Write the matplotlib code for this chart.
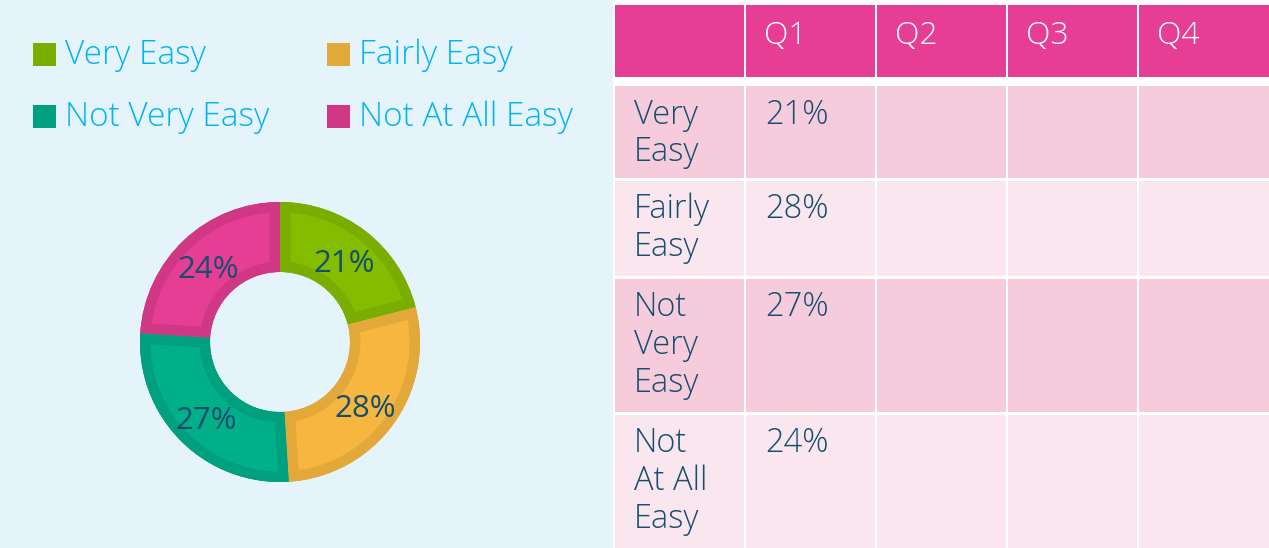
import matplotlib
matplotlib.use("Agg")
import matplotlib.pyplot as plt
from matplotlib.patches import Rectangle
from matplotlib.transforms import offset_copy

# ---------------- data ----------------
categories = ["Very Easy", "Fairly Easy", "Not Very Easy", "Not At All Easy"]
row_labels = ["Very\nEasy", "Fairly\nEasy", "Not\nVery\nEasy", "Not\nAt All\nEasy"]
values_q1 = [21, 28, 27, 24]
quarters = ["Q1", "Q2", "Q3", "Q4"]
fill_colors = ["#84BC00", "#F6B63F", "#00B089", "#E63E95"]
edge_colors = ["#79AD00", "#E2A83A", "#00A07F", "#D03886"]

FONT = "Open Sans"
WEIGHT = "light"
TEXT_DARK = "#154F6E"
LEGEND_BLUE = "#00B4F0"

W, H = 1269, 548
fig = plt.figure(figsize=(W / 100, H / 100), dpi=100)
fig.patch.set_facecolor("white")

# overlay axes in pixel coordinates
bg = fig.add_axes([0, 0, 1, 1])
bg.set_xlim(0, W)
bg.set_ylim(H, 0)
bg.axis("off")

# left panel background
bg.add_patch(Rectangle((0, 0), 613, H, facecolor="#E5F4FB", edgecolor="none", zorder=0))

# legend
leg_pos = [(33, 43), (327, 43), (33, 105), (327, 105)]
for (x, y), cat, col in zip(leg_pos, categories, edge_colors):
    bg.add_patch(Rectangle((x, y), 23, 23, facecolor=col, edgecolor="none", zorder=2))
    bg.text(x + 32, y + 20.5, cat, color=LEGEND_BLUE, fontsize=24, family=FONT,
            fontweight=WEIGHT, va="baseline", ha="left", zorder=3)

# ---------------- table ----------------
col_edges = [615, 746, 877, 1008, 1139, 1269]
row_edges = [(5, 77), (86, 178), (181, 276), (279, 412), (415, 548)]
row_fills = ["#F6CCDD", "#FAE6EE", "#F6CCDD", "#FAE6EE"]
header_col = "#E63E94"

for ci in range(5):
    x0 = col_edges[ci]
    x1 = col_edges[ci + 1] - 2 if ci < 4 else col_edges[ci + 1]
    for ri, (y0, y1) in enumerate(row_edges):
        fc = header_col if ri == 0 else row_fills[ri - 1]
        bg.add_patch(Rectangle((x0, y0), x1 - x0, y1 - y0, facecolor=fc,
                               edgecolor="none", zorder=1))

# header text
for ci, q in enumerate(quarters):
    bg.text(col_edges[ci + 1] + 18, 44, q, color="white", fontsize=23,
            family=FONT, fontweight=WEIGHT, va="baseline", ha="left", zorder=3)

# row labels and Q1 values
for ri, (lab, val) in enumerate(zip(row_labels, values_q1)):
    y0 = row_edges[ri + 1][0]
    bg.text(634, y0 + 12, lab, color=TEXT_DARK, fontsize=23.5, family=FONT,
            fontweight=WEIGHT, va="top", ha="left", linespacing=1.17, zorder=3)
    bg.text(765, y0 + 12, f"{val}%", color=TEXT_DARK, fontsize=23.5, family=FONT,
            fontweight=WEIGHT, va="top", ha="left", zorder=3)

# ---------------- donut ----------------
cx, cy, R = 280, 342, 140
dax = fig.add_axes([(cx - R) / W, (H - cy - R) / H, 2 * R / W, 2 * R / H])
# base ring (darker border colour)
base, _ = dax.pie(values_q1, colors=edge_colors, startangle=90, counterclock=False,
                  radius=1.0, wedgeprops=dict(width=0.5, linewidth=0))
# lighter fill, inset by a stroke clipped to the base wedge
tops, texts, autotexts = dax.pie(
    values_q1, colors=fill_colors, startangle=90, counterclock=False,
    radius=1.0, autopct="%.0f%%", pctdistance=0.75,
    wedgeprops=dict(width=0.5, linewidth=0),
    textprops=dict(color=TEXT_DARK, fontsize=22.5, family=FONT),
)
for b, t, ec in zip(base, tops, edge_colors):
    t.set_edgecolor(ec)
    t.set_linewidth(15)
    t.set_clip_on(True)
    t.set_clip_path(b)
    t.set_zorder(2)
for t in autotexts:
    t.set_zorder(5)
    t.set_transform(offset_copy(t.get_transform(), fig=fig, x=0, y=-5, units="dots"))
dax.set_xlim(-1, 1)
dax.set_ylim(-1, 1)
dax.set_aspect("equal")
dax.axis("off")

fig.savefig("out.png", dpi=100, facecolor=fig.get_facecolor())
